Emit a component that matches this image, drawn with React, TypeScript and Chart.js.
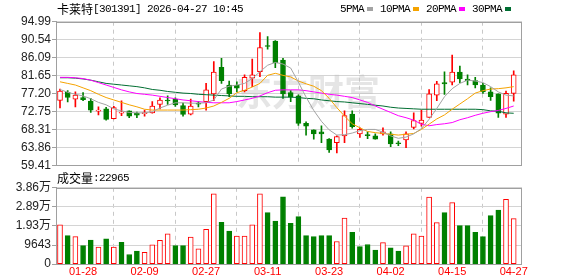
import { useEffect, useRef } from 'react';
import { Chart, registerables } from 'chart.js';
Chart.register(...registerables);

const stockName = '卡莱特';
const stockCode = '301391';
const timestamp = '2026-04-27 10:45';
const volumeLabel = '成交量';
const watermark = '东方财富';

const dates = ['01-23','01-26','01-27','01-28','01-29','01-30','02-02','02-03','02-04','02-05','02-06','02-09','02-10','02-11','02-12','02-13','02-24','02-25','02-26','02-27','03-02','03-03','03-04','03-05','03-06','03-09','03-10','03-11','03-12','03-13','03-16','03-17','03-18','03-19','03-20','03-23','03-24','03-25','03-26','03-27','03-30','03-31','04-01','04-02','04-03','04-07','04-08','04-09','04-10','04-13','04-14','04-15','04-16','04-17','04-20','04-21','04-22','04-23','04-24','04-27'];

const openP = [75.5,77.5,75.8,76.2,75.3,72.85,73.4,70.95,72.35,72.9,72.3,72.2,72.4,74.5,75.6,75.8,74.2,72.05,74.8,75.2,77.1,83.7,79.3,79.2,77.9,81.0,82.6,89.1,90.2,85.5,77.4,76.6,69.8,68.2,67.7,65.9,65.0,66.7,72.1,67.2,67.0,66.7,67.2,67.2,65.0,65.7,68.8,69.8,71.3,76.8,79.9,80.0,82.5,80.8,80.4,79.3,77.6,77.1,72.05,77.25];
const highP = [78.3,77.9,77.6,77.4,76.0,73.9,73.8,74.0,75.4,72.9,72.6,73.1,75.2,76.1,76.6,76.1,74.8,75.8,75.2,79.7,85.1,85.9,80.3,80.1,81.8,85.7,92.3,91.3,90.3,85.9,77.9,76.9,70.2,68.2,69.2,66.0,66.7,72.9,72.9,68.7,67.7,67.2,68.7,67.7,65.4,67.7,72.4,73.1,78.2,80.2,82.6,86.7,84.0,81.8,81.2,79.7,78.6,77.1,77.8,82.8];
const lowP = [73.6,75.1,73.9,75.4,72.5,71.9,70.6,70.9,71.7,71.2,71.2,71.6,72.3,73.4,74.5,74.0,71.6,71.9,73.9,73.1,75.4,79.7,76.4,77.6,77.6,78.9,81.4,88.2,83.6,76.0,75.2,69.3,66.9,65.9,65.0,62.6,62.5,65.0,68.6,66.3,66.0,65.9,66.9,64.0,64.3,63.8,68.4,69.1,71.3,75.4,77.0,79.3,79.9,79.3,78.6,77.2,75.5,71.3,71.3,75.3];
const closeP = [77.8,76.2,76.8,75.7,73.1,73.1,70.8,73.7,72.6,71.6,71.8,72.5,74.1,75.6,75.35,74.4,72.0,74.1,74.55,78.1,82.5,80.4,77.1,78.5,81.2,81.8,88.6,88.85,84.8,77.1,76.3,69.8,69.1,67.2,67.2,63.2,66.5,71.7,69.0,68.3,66.75,65.9,67.7,64.7,64.75,67.2,70.5,70.6,77.1,79.6,79.6,82.5,80.8,80.4,79.3,77.6,76.4,72.3,77.25,81.8];

const ma5 = [78.2,77.5,77.0,76.6,75.9,75.0,74.4,73.4,72.9,72.5,72.4,72.4,72.7,73.6,74.3,74.9,74.9,74.8,74.8,74.9,75.6,78.3,79.0,79.3,79.7,80.9,82.6,84.2,84.9,84.5,83.5,80.0,76.3,73.0,70.3,68.2,66.9,67.0,67.4,68.0,68.3,68.3,67.6,66.7,66.1,66.4,67.2,68.5,70.8,73.5,76.4,78.4,79.7,80.5,80.3,79.9,78.9,77.6,76.8,76.6];
const ma10 = [80.1,79.7,79.3,78.6,77.9,77.0,76.2,75.6,75.0,74.4,73.9,73.3,73.1,73.1,73.1,73.1,73.1,73.2,73.3,73.6,74.1,75.0,76.0,77.4,78.0,78.8,79.7,81.7,82.2,81.7,81.3,80.3,79.6,79.0,77.9,76.0,73.7,71.6,69.7,68.7,67.8,67.5,67.3,67.1,66.9,67.1,67.3,68.3,69.6,70.9,71.9,73.3,74.6,75.9,77.3,77.9,78.3,78.4,78.6,78.9];
const ma20 = [81.2,81.2,81.1,80.9,80.5,79.9,79.3,78.7,78.1,77.6,77.2,77.0,76.8,76.5,76.2,75.9,75.6,75.4,75.2,75.0,74.9,74.9,74.9,75.2,75.6,76.0,76.6,77.4,78.0,78.1,78.1,78.1,77.9,77.6,77.3,77.0,76.8,76.5,76.2,75.6,75.0,74.1,73.3,72.5,71.7,71.2,70.6,69.6,69.2,69.5,69.7,70.0,70.7,71.2,71.8,72.3,72.7,73.0,73.5,74.1];
const ma30 = [81.1,81.1,81.0,80.8,80.5,80.1,79.7,79.5,79.3,79.1,78.9,78.6,78.2,78.0,77.7,77.5,77.3,77.2,77.0,76.9,76.8,76.7,76.6,76.5,76.5,76.4,76.4,76.4,76.3,76.3,76.3,76.2,76.0,75.9,75.6,75.4,75.2,75.1,74.9,74.7,74.5,74.3,74.1,73.8,73.6,73.5,73.4,73.3,73.3,73.3,73.3,73.3,73.3,73.3,73.3,73.2,72.9,72.8,72.4,72.3];

const volumes = [19843,14414,13853,9360,12168,8611,12730,8611,11045,4867,6552,5990,9734,11981,15350,9360,9360,13666,7675,17597,35568,21154,16661,14227,14227,19843,35568,26021,21715,34070,20592,23962,14414,13853,14414,14414,11419,23213,16099,8798,9922,7114,10858,8237,6552,9173,15350,14227,33883,20966,26021,31075,19469,19469,16099,13853,24523,27331,32760,22965];
const volumeUp = [1,0,1,0,0,1,0,1,0,0,0,1,1,1,1,0,0,1,1,1,1,0,0,1,1,1,1,0,0,0,0,0,0,0,0,0,1,1,0,0,0,0,1,0,0,1,1,1,1,1,0,1,0,0,0,0,0,0,1,1];

const xTickDates = ['01-28','02-09','02-27','03-11','03-23','04-02','04-15','04-27'];
const priceTicks = [59.41,63.86,68.31,72.75,77.20,81.65,86.09,90.54,94.99];
const volTicks = [0,9643,19286,28929,38572];
const volTickLabels = ['0','9643','1.93万','2.89万','3.86万'];
const maNames = ['5PMA','10PMA','20PMA','30PMA'];

const RED = '#ff0000';
const GREEN = '#008000';
const MA_COLORS = ['#a3a3a3','#f5a300','#ff00ff','#006e32'];
const SANS = "'Liberation Sans', 'Noto Sans CJK SC', sans-serif";
const MONO = "'Liberation Mono', monospace";
const CJK = "'Noto Sans CJK SC', sans-serif";

const X_MIN = -0.52;
const X_MAX = 60.08;

const frame = {
  id: 'frame',
  afterDatasetsDraw(chart: any) {
    const { ctx, chartArea: a } = chart;
    ctx.save();
    ctx.strokeStyle = '#a0a0a0';
    ctx.lineWidth = 1;
    const l = Math.round(a.left), t = Math.round(a.top), r = Math.round(a.right), b = Math.round(a.bottom);
    ctx.strokeRect(l + 0.5, t + 0.5, r - l - 1, b - t);
    ctx.restore();
  },
};

function monoText(ctx: CanvasRenderingContext2D, s: string, x: number, y: number) {
  ctx.font = `11px ${MONO}`;
  (ctx as any).letterSpacing = '-0.6px';
  ctx.fillText(s, x, y);
  (ctx as any).letterSpacing = '0px';
  return s.length * 6;
}

const header = {
  id: 'header',
  afterDraw(chart: any) {
    const ctx = chart.ctx as CanvasRenderingContext2D;
    ctx.save();
    ctx.textBaseline = 'middle';
    ctx.textAlign = 'left';
    ctx.fillStyle = '#000';
    let x = 57;
    const y = 9.5;
    ctx.font = `12px ${CJK}`;
    ctx.fillText(stockName, x, y);
    x += ctx.measureText(stockName).width;
    monoText(ctx, `[${stockCode}] ${timestamp}`, x, y);
    let lx = 340;
    maNames.forEach((n, i) => {
      ctx.fillStyle = '#000';
      const w = monoText(ctx, n, lx, y);
      ctx.fillStyle = MA_COLORS[i];
      ctx.fillRect(lx + w + 3, 7, 6, 4);
      lx += w + 3 + 6 + 7;
    });
    ctx.restore();
  },
};

const mark = {
  id: 'mark',
  beforeDatasetsDraw(chart: any) {
    const ctx = chart.ctx as CanvasRenderingContext2D;
    ctx.save();
    ctx.font = `bold 36px ${CJK}`;
    ctx.fillStyle = 'rgba(190,190,190,0.4)';
    ctx.textAlign = 'center';
    ctx.textBaseline = 'middle';
    ctx.fillText(watermark, 308, 92);
    ctx.restore();
  },
};

const volHeader = {
  id: 'volHeader',
  afterDraw(chart: any) {
    const ctx = chart.ctx as CanvasRenderingContext2D;
    ctx.save();
    ctx.textBaseline = 'middle';
    ctx.fillStyle = '#000';
    let x = 57;
    const y = 10;
    ctx.font = `12px ${CJK}`;
    ctx.fillText(volumeLabel, x, y);
    x += ctx.measureText(volumeLabel).width;
    monoText(ctx, `:${volumes[volumes.length - 1]}`, x, y);
    ctx.restore();
  },
};

export default function App() {
  const priceRef = useRef<HTMLCanvasElement>(null);
  const volRef = useRef<HTMLCanvasElement>(null);

  useEffect(() => {
    document.body.style.margin = '0';
    Chart.defaults.font.family = SANS;
    const tickIdx = xTickDates.map((d) => dates.indexOf(d));
    const up = closeP.map((c, i) => c >= openP[i]);

    const xScale = (showLabels: boolean, height: number | null) => ({
      type: 'linear' as const,
      min: X_MIN,
      max: X_MAX,
      offset: false,
      afterBuildTicks: (s: any) => { s.ticks = tickIdx.map((v) => ({ value: v })); },
      afterFit: height === null ? undefined : (s: any) => { s.height = height; },
      ticks: {
        display: showLabels,
        autoSkip: false,
        maxRotation: 0,
        padding: 1,
        color: RED,
        font: { size: 11, family: SANS },
        callback: (v: any) => dates[Math.round(v)] ?? '',
      },
      grid: { color: '#c8c8c8', drawTicks: false, lineWidth: 1 },
      border: { display: false, dash: [4, 4] },
    });

    const yScaleBase = {
      afterFit: (s: any) => { s.width = 56; },
      grid: { color: '#d4d4d4', tickColor: '#a0a0a0', tickLength: 4, lineWidth: 1 },
      border: { color: '#a0a0a0' },
    };

    const c1 = new Chart(priceRef.current!, {
      type: 'bar',
      data: {
        datasets: [
          ...[ma5, ma10, ma20, ma30].map((arr, k) => ({
            type: 'line' as const,
            data: arr.map((v, i) => ({ x: i, y: v })),
            borderColor: MA_COLORS[k],
            borderWidth: 1,
            pointRadius: 0,
            tension: 0,
            order: 0,
          })),
          {
            type: 'bar' as const,
            data: dates.map((_, i) => ({ x: i, y: [openP[i], closeP[i]] })),
            backgroundColor: up.map((u) => (u ? '#ffffff' : GREEN)),
            borderColor: up.map((u) => (u ? RED : GREEN)),
            borderWidth: 1,
            borderSkipped: false,
            barThickness: 5,
            minBarLength: 1,
            grouped: false,
            order: 2,
          },
          {
            type: 'bar' as const,
            data: dates.map((_, i) => ({ x: i, y: [lowP[i], highP[i]] })),
            backgroundColor: up.map((u) => (u ? RED : GREEN)),
            borderWidth: 0,
            barThickness: 1,
            grouped: false,
            order: 3,
          },
        ] as any,
      },
      options: {
        responsive: false,
        animation: false,
        devicePixelRatio: 1,
        layout: { padding: { top: 21.7, right: 56, bottom: 10.7, left: 0 } },
        plugins: { legend: { display: false }, tooltip: { enabled: false } },
        scales: {
          x: xScale(false, null) as any,
          y: {
            ...yScaleBase,
            min: 59.41,
            max: 94.99,
            afterBuildTicks: (s: any) => { s.ticks = priceTicks.map((v) => ({ value: v })); },
            ticks: { padding: 1, color: '#222', font: { size: 12, family: SANS }, callback: (v: any) => Number(v).toFixed(2) },
          } as any,
        },
      },
      plugins: [mark, frame, header],
    });

    const c2 = new Chart(volRef.current!, {
      type: 'bar',
      data: {
        datasets: [
          {
            data: volumes.map((v, i) => ({ x: i, y: v })),
            backgroundColor: volumeUp.map((u) => (u ? '#ffffff' : GREEN)),
            borderColor: volumeUp.map((u) => (u ? RED : GREEN)),
            borderWidth: 1,
            borderSkipped: false,
            barThickness: 5,
            grouped: false,
          } as any,
        ],
      },
      options: {
        responsive: false,
        animation: false,
        devicePixelRatio: 1,
        layout: { padding: { top: 19.8, right: 56, bottom: 0, left: 0 } },
        plugins: { legend: { display: false }, tooltip: { enabled: false } },
        scales: {
          x: xScale(true, 11.9) as any,
          y: {
            ...yScaleBase,
            min: 0,
            max: 38572,
            afterBuildTicks: (s: any) => { s.ticks = volTicks.map((v) => ({ value: v })); },
            ticks: {
              padding: 1,
              color: '#222',
              font: { size: 12, family: SANS },
              callback: (v: any) => volTickLabels[volTicks.indexOf(Number(v))] ?? '',
            },
          } as any,
        },
      },
      plugins: [frame, volHeader],
    });

    return () => { c1.destroy(); c2.destroy(); };
  }, []);

  return (
    <div style={{ position: 'fixed', left: 0, top: 0, width: 578, height: 276, background: '#fff', overflow: 'hidden' }}>
      <canvas ref={priceRef} width={578} height={176} style={{ position: 'absolute', left: 0, top: 0 }} />
      <canvas ref={volRef} width={578} height={108} style={{ position: 'absolute', left: 0, top: 168 }} />
    </div>
  );
}
